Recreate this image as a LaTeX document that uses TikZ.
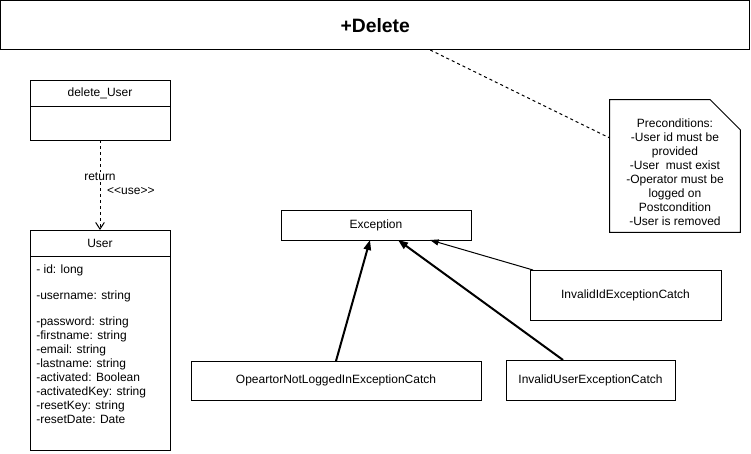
\documentclass[tikz,border=0pt]{standalone}
\usepackage{fontspec}
\setmainfont{Liberation Sans}
\usetikzlibrary{arrows.meta,positioning}

\begin{document}
\begin{tikzpicture}[x=0.75pt,y=-0.75pt,
 every node/.style={font=\fontsize{9}{10.5}\selectfont},
 box/.style={draw,line width=0.75pt,inner sep=0pt,outer sep=0pt,align=center},
 gen/.style={-{Triangle[length=7.5pt,width=5.5pt]},line width=1.5pt},
 genthin/.style={-{Triangle[length=6.5pt,width=4.5pt]},line width=0.75pt},
 use/.style={-{Straight Barb[length=5pt,width=6.5pt]},line width=0.75pt,dash pattern=on 2.25pt off 2.25pt}]
 \useasboundingbox (0,0) rectangle (751,454);

 \node[box,minimum width=562.1pt,minimum height=37.1pt,font=\bfseries\fontsize{14.5}{17}\selectfont] (q_delete) at (375.25,25.25) {+Delete};

 \node[box,minimum width=105pt,minimum height=19.5pt] (del_head) at (100,93) {delete\_User};
 \node[box,minimum width=105pt,minimum height=25.5pt,below=0pt of del_head] (del_body) {};

 \node[box,minimum width=105pt,minimum height=19.5pt] (user_head) at (100,243) {User};
 \node[box,minimum width=105pt,minimum height=145.5pt,below=0pt of user_head] (user_body) {};
 \node[align=left,anchor=north west,inner sep=0pt] (user_attr) at (36,265)
 {- id: long\\[8.6pt]
 -username: string\\[8.9pt]
 -password: string\\
 -firstname: string\\
 -email: string\\
 -lastname: string\\
 -activated: Boolean\\
 -activatedKey: string\\
 -resetKey: string\\
 -resetDate: Date};

 \path[use] (del_body) edge
 node[pos=0.41,fill=white,inner sep=1pt] {return}
 node[pos=0.57,anchor=west,inner sep=1pt,xshift=4pt] {<\kern0pt<use>\kern0pt>} (user_head);

 % note
 \node[minimum width=97.5pt,minimum height=99pt,inner sep=0pt] (note) at (675,166) {};
 \draw[line width=0.75pt] (note.north west) -- ([xshift=-22.5pt]note.north east)
 -- ([yshift=-22.5pt]note.north east) -- (note.south east) -- (note.south west) -- cycle;
 \node[align=center,inner sep=0pt] (note_text) at (675,172)
 {Preconditions:\\-User id must be\\provided\\-User\ \ must exist\\-Operator must be\\logged on\\Postcondition\\-User is removed};
 \draw[line width=0.75pt,dash pattern=on 2.25pt off 2.25pt] ([xshift=41.25pt]q_delete.south) -- ([yshift=21pt]note.west);

 % exceptions
 \node[box,minimum width=142.5pt,minimum height=22.5pt] (q_exc) at (376,225) {Exception};
 \node[box,minimum width=143.25pt,minimum height=37.5pt] (q_id) at (625.5,295) {InvalidIdExceptionCatch};
 \node[box,minimum width=217.5pt,minimum height=29.25pt] (q_op) at (336,380.5) {OpeartorNotLoggedInExceptionCatch};
 \node[box,minimum width=126.75pt,minimum height=30pt] (q_user) at (590.5,380) {InvalidUserExceptionCatch};

 \draw[gen] (q_op.north) -- ([xshift=-4.5pt]q_exc.south);
 \draw[gen] ([xshift=-20.6pt]q_user.north) -- ([xshift=16.5pt]q_exc.south);
 \draw[genthin] ([xshift=2.25pt]q_id.north west) -- ([xshift=40.5pt]q_exc.south);
\end{tikzpicture}
\end{document}
